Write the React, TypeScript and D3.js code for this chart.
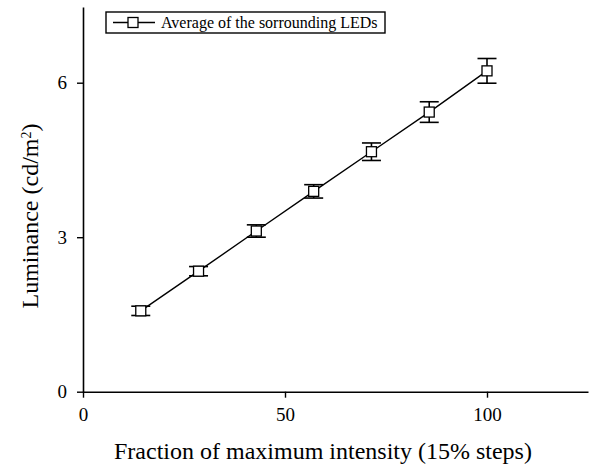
import React, { useEffect, useRef } from 'react';
import * as d3 from 'd3';

const fractions = [14.3, 28.6, 42.9, 57.1, 71.4, 85.7, 100];
const luminance = [1.57, 2.34, 3.12, 3.89, 4.66, 5.43, 6.23];
const errors = [0.09, 0.09, 0.12, 0.13, 0.17, 0.2, 0.24];
const xTicks = [0, 50, 100];
const yTicks = [0, 3, 6];
const legendLabel = 'Average of the sorrounding LEDs';

export default function App() {
  const ref = useRef<SVGSVGElement>(null);

  useEffect(() => {
    if (!ref.current) return;
    const svg = d3.select(ref.current);
    svg.selectAll('*').remove();

    const height = 466;
    const margin = { top: 7, bottom: 74, left: 83 };
    const font = '"Liberation Serif", "Times New Roman", serif';

    const x = d3.scaleLinear()
      .domain([0, 125])
      .range([margin.left, margin.left + 125 * 4.04]);

    const y = d3.scaleLinear()
      .domain([0, 7.47])
      .range([height - margin.bottom - 0.3, margin.top]);

    const data = fractions.map((f, i) => ({ x: f, y: luminance[i], e: errors[i] }));

    // axes
    const xAxis = svg.append('g')
      .attr('transform', `translate(0,${y(0)})`)
      .call(d3.axisBottom(x).tickValues(xTicks).tickSize(6).tickPadding(10).tickSizeOuter(0));
    xAxis.select('.domain').attr('stroke-width', 1.6);
    xAxis.selectAll('.tick line').attr('stroke-width', 1.4);
    xAxis.selectAll('text')
      .attr('font-family', font)
      .attr('font-size', 19)
      .attr('fill', '#000');

    const yAxis = svg.append('g')
      .attr('transform', `translate(${x(0)},0)`)
      .call(d3.axisLeft(y).tickValues(yTicks).tickSize(6).tickPadding(10).tickSizeOuter(0));
    yAxis.select('.domain').attr('stroke-width', 1.6);
    yAxis.selectAll('.tick line').attr('stroke-width', 1.4);
    yAxis.selectAll('text')
      .attr('font-family', font)
      .attr('font-size', 19)
      .attr('fill', '#000');

    // axis titles
    svg.append('text')
      .attr('x', 114)
      .attr('y', 459)
      .attr('font-family', font)
      .attr('font-size', 24)
      .attr('fill', '#000')
      .text('Fraction of maximum intensity (15% steps)');

    const yl = svg.append('text')
      .attr('transform', `translate(38,216) rotate(-90)`)
      .attr('text-anchor', 'middle')
      .attr('font-family', font)
      .attr('font-size', 24)
      .attr('fill', '#000');
    yl.append('tspan').text('Luminance (cd/m');
    yl.append('tspan').attr('baseline-shift', 'super').attr('font-size', 14).text('2');
    yl.append('tspan').text(')');

    // line
    const line = d3.line<any>()
      .x(d => x(d.x))
      .y(d => y(d.y));

    svg.append('path')
      .datum(data)
      .attr('fill', 'none')
      .attr('stroke', '#000')
      .attr('stroke-width', 1.4)
      .attr('d', line);

    // error bars
    const eb = svg.append('g').attr('stroke', '#000').attr('stroke-width', 1.6);
    data.forEach(d => {
      const cx = x(d.x);
      eb.append('line')
        .attr('x1', cx).attr('x2', cx)
        .attr('y1', y(d.y - d.e)).attr('y2', y(d.y + d.e));
      eb.append('line')
        .attr('x1', cx - 9.5).attr('x2', cx + 9.5)
        .attr('y1', y(d.y - d.e)).attr('y2', y(d.y - d.e));
      eb.append('line')
        .attr('x1', cx - 9.5).attr('x2', cx + 9.5)
        .attr('y1', y(d.y + d.e)).attr('y2', y(d.y + d.e));
    });

    // markers
    const s = 10;
    svg.selectAll('.pt')
      .data(data)
      .enter()
      .append('rect')
      .attr('class', 'pt')
      .attr('x', d => x(d.x) - s / 2)
      .attr('y', d => y(d.y) - s / 2)
      .attr('width', s)
      .attr('height', s)
      .attr('fill', '#fff')
      .attr('stroke', '#000')
      .attr('stroke-width', 1.3);

    // legend
    const lg = svg.append('g');
    lg.append('rect')
      .attr('x', 106)
      .attr('y', 12)
      .attr('width', 279)
      .attr('height', 21)
      .attr('fill', '#fff')
      .attr('stroke', '#000')
      .attr('stroke-width', 1.4);
    lg.append('line')
      .attr('x1', 113).attr('x2', 155)
      .attr('y1', 22.5).attr('y2', 22.5)
      .attr('stroke', '#000')
      .attr('stroke-width', 1.4);
    lg.append('rect')
      .attr('x', 128).attr('y', 17.5)
      .attr('width', 10).attr('height', 10)
      .attr('fill', '#fff')
      .attr('stroke', '#000')
      .attr('stroke-width', 1.3);
    lg.append('text')
      .attr('x', 161)
      .attr('y', 28)
      .attr('font-family', font)
      .attr('font-size', 16)
      .attr('fill', '#000')
      .text(legendLabel);
  }, []);

  return (
    <svg
      ref={ref}
      width={589}
      height={466}
      style={{ position: 'absolute', left: 0, top: 0, background: '#fff' }}
    />
  );
}
